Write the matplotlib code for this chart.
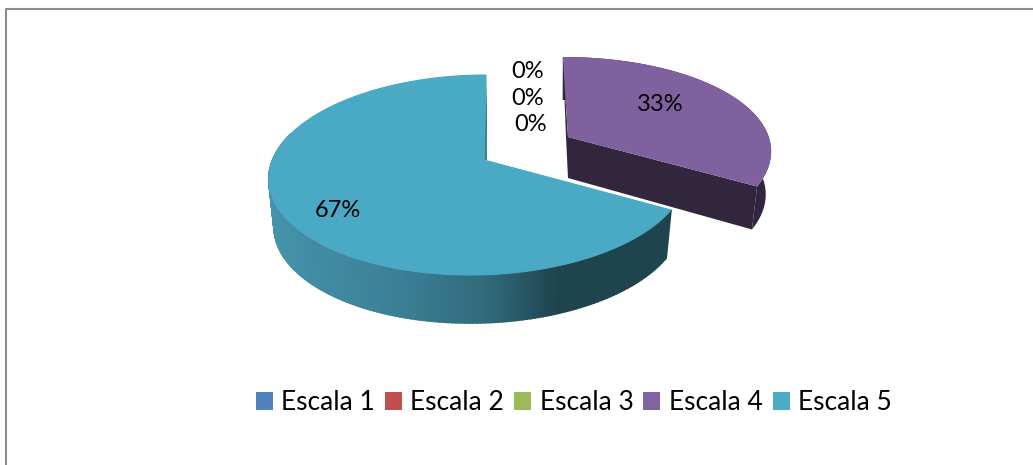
import numpy as np
import matplotlib
matplotlib.use("Agg")
import matplotlib.pyplot as plt
from matplotlib.patches import Patch, Polygon
from matplotlib.colors import LinearSegmentedColormap

categories = ["Escala 1", "Escala 2", "Escala 3", "Escala 4", "Escala 5"]
values = [0, 0, 0, 33, 67]
colors = ["#4f81bd", "#c0504d", "#9bbb59", "#8064a2", "#4bacc6"]

# where each label sits, in pixels
label_pos = [(528, 72), (528, 98), (531, 124), (660, 104), (338, 210)]

plt.rcParams["font.family"] = ["Lato", "DejaVu Sans"]

fig = plt.figure(figsize=(10.33, 4.65), dpi=100)
ax = fig.add_axes([0, 0, 1, 1])
ax.set_xlim(0, 1033)
ax.set_ylim(465, 0)
ax.axis("off")

# chart frame, only top and left show in the picture
ax.plot([6, 6, 1033], [465, 9, 9], color="#8c8c8c", lw=1.5)

# fake 3d geometry for the two visible slices
geom = {
    3: dict(cx=555, cy=155, rx=216, ry=98, apex=(568, 137), depth=43, warp=11.5, top="#7f61a0", side="#32263f"),
    4: dict(cx=478, cy=175, rx=209, ry=100, apex=(484, 160), depth=48, warp=9.5, top="#4aa9c4", side="#3a8298"),
}
shear = 0.08
shrink = 0.975
side_cmap = LinearSegmentedColormap.from_list(
    "side", [(0, "#4593ab"), (0.35, "#3a7d92"), (0.55, "#31697a"), (0.72, "#1e444e"), (1, "#1e444e")])


def rim(g, theta):
    # theta in radians clockwise from the top, warped for the perspective look
    phi = theta - np.radians(g["warp"]) * np.sin(theta)
    y = g["cy"] - g["ry"] * np.cos(phi)
    x = g["cx"] + g["rx"] * np.sin(phi) - shear * (y - g["cy"])
    return x, y


def lower(g, x, y):
    return g["cx"] + shrink * (x - g["cx"]), y + g["depth"]


fracs = np.cumsum([0] + values) / sum(values)

# purple slice
g = geom[3]
t = np.linspace(fracs[3], fracs[4], 80) * 2 * np.pi
x, y = rim(g, t)
xb, yb = lower(g, x, y)
ax.add_patch(Polygon(list(zip(x, y)) + list(zip(xb, yb))[::-1], fc=g["side"], ec="none", zorder=2))
ax.add_patch(Polygon([g["apex"], (x[-1], y[-1]), (xb[-1], yb[-1]), (g["apex"][0], g["apex"][1] + g["depth"] - 2)],
                     fc=g["side"], ec="none", zorder=2))
ax.add_patch(Polygon([(x[0], y[0]), g["apex"], (g["apex"][0], g["apex"][1] + g["depth"] - 2), (g["apex"][0] - 2, g["apex"][1])],
                     fc=g["side"], ec="none", zorder=2))
ax.add_patch(Polygon([g["apex"]] + list(zip(x, y)), fc=g["top"], ec="none", zorder=3))

# teal slice, side shaded in strips, only the part facing us
g = geom[4]
t = np.linspace(fracs[4], fracs[5], 240) * 2 * np.pi
x, y = rim(g, t)
xb, yb = lower(g, x, y)
for i in range(len(t) - 1):
    if t[i] > np.radians(285):
        break
    c = side_cmap((0.5 * (x[i] + x[i + 1]) - x.min()) / (x[0] - x.min()))
    ax.add_patch(Polygon([(x[i], y[i]), (x[i + 1], y[i + 1]), (xb[i + 1], yb[i + 1]), (xb[i], yb[i])],
                         fc=c, ec=c, lw=1.2, zorder=2))
ax.add_patch(Polygon([(x[-1], y[-1]), (x[-1] + 1, y[-1] + 30), (g["apex"][0] + 3, g["apex"][1]), g["apex"]],
                     fc=g["side"], ec="none", zorder=2))
ax.add_patch(Polygon([g["apex"]] + list(zip(x, y)), fc=g["top"], ec=g["top"], lw=0.8, zorder=3))

# data labels
for v, p in zip(values, label_pos):
    ax.text(p[0], p[1], f"{v}%", fontsize=17, color="black", ha="center", va="center", zorder=5)

handles = [Patch(fc=c, ec="none", label=n) for c, n in zip(colors, categories)]
fig.legend(handles=handles, ncol=5, frameon=False, fontsize=19,
           loc="center", bbox_to_anchor=(0.5555, 0.134),
           handlelength=0.64, handleheight=0.64, handletextpad=0.32,
           columnspacing=0.38, borderpad=0)

fig.savefig("out.png", dpi=100)
